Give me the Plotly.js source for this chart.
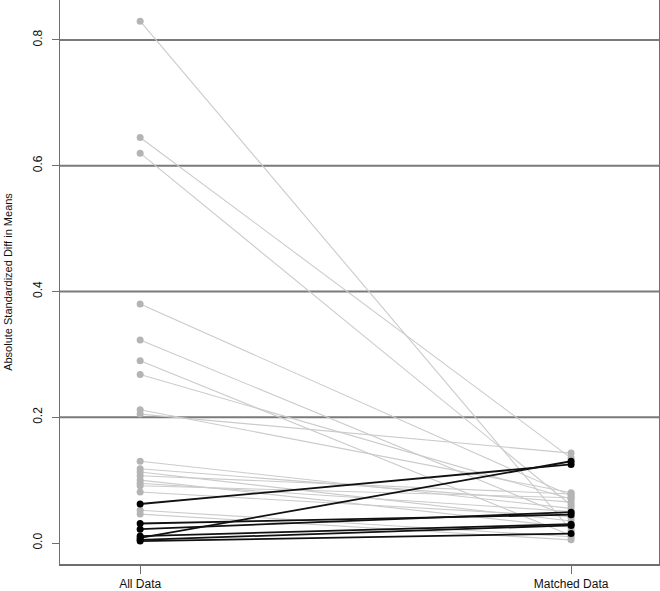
<!DOCTYPE html>
<html>
<head>
<meta charset="utf-8">
<script src="https://cdn.plot.ly/plotly-3.0.1.min.js"></script>
<style>html,body{margin:0;padding:0;background:#fff;}#chart{width:660px;height:591px;}</style>
</head>
<body>
<div id="chart"></div>
<script>
// Categories on the x axis
const categories = ["All Data", "Matched Data"];
// Covariates whose balance improved (grey)
const grayAll     = [0.830, 0.645, 0.620, 0.380, 0.323, 0.290, 0.268, 0.212, 0.205, 0.130, 0.118, 0.113, 0.107, 0.100, 0.095, 0.091, 0.081, 0.052, 0.046];
const grayMatched = [0.020, 0.135, 0.060, 0.075, 0.040, 0.012, 0.070, 0.080, 0.143, 0.055, 0.065, 0.035, 0.078, 0.025, 0.050, 0.072, 0.042, 0.010, 0.005];
// Covariates whose balance worsened (black)
const blackAll     = [0.062, 0.008, 0.031, 0.022, 0.011, 0.005, 0.003];
const blackMatched = [0.125, 0.130, 0.045, 0.049, 0.030, 0.028, 0.015];
// Y tick values
const yTicks = [0.0, 0.2, 0.4, 0.6, 0.8];
const yTickText = ["0.0", "0.2", "0.4", "0.6", "0.8"];

function segs(a, b) {
  const x = [], y = [];
  for (let i = 0; i < a.length; i++) {
    x.push(1, 2, null);
    y.push(a[i], b[i], null);
  }
  return {x, y};
}
function pts(a, b) {
  const x = [], y = [];
  for (let i = 0; i < a.length; i++) { x.push(1, 2); y.push(a[i], b[i]); }
  return {x, y};
}
const gs = segs(grayAll, grayMatched), bs = segs(blackAll, blackMatched);
const gp = pts(grayAll, grayMatched), bp = pts(blackAll, blackMatched);

const traces = [
  {x: gs.x, y: gs.y, mode: "lines", line: {color: "#cbcbcb", width: 1.1}, hoverinfo: "skip", showlegend: false},
  {x: bs.x, y: bs.y, mode: "lines", line: {color: "#111111", width: 1.8}, hoverinfo: "skip", showlegend: false},
  {x: gp.x, y: gp.y, mode: "markers", marker: {color: "#b4b4b4", size: 7}, showlegend: false},
  {x: bp.x, y: bp.y, mode: "markers", marker: {color: "#000000", size: 7}, showlegend: false}
];

const shapes = yTicks.filter(v => v > 0).map(v => ({
  type: "line", xref: "paper", x0: 0, x1: 1, yref: "y", y0: v, y1: v,
  line: {color: "#7a7a7a", width: 2}, layer: "below"
}));

const font = {family: "Liberation Sans, Arial, sans-serif", size: 11, color: "#111"};
const tickFont = {family: "Liberation Sans, Arial, sans-serif", size: 12, color: "#111"};
const layout = {
  width: 660, height: 591,
  margin: {l: 60, r: 1, t: 0, b: 27},
  paper_bgcolor: "#fff", plot_bgcolor: "#fff",
  font: font,
  showlegend: false,
  shapes: shapes,
  xaxis: {
    range: [0.814, 2.204], tickvals: [1, 2], ticktext: categories,
    showgrid: false, zeroline: false,
    showline: true, mirror: true, linecolor: "#6e6e6e", linewidth: 1.5,
    ticks: "outside", ticklen: 8, tickcolor: "#6e6e6e", tickwidth: 1,
    tickfont: tickFont
  },
  yaxis: {
    range: [-0.0334, 0.8636], tickvals: yTicks, ticktext: yTickText,
    tickangle: -90,
    showgrid: false, zeroline: false,
    showline: true, mirror: true, linecolor: "#6e6e6e", linewidth: 1.5,
    ticks: "outside", ticklen: 7, tickcolor: "#6e6e6e", tickwidth: 1,
    ticklabelstandoff: 5,
    tickfont: tickFont,
    title: {text: "Absolute Standardized Diff in Means", font: font, standoff: 16}
  }
};
Plotly.newPlot("chart", traces, layout, {staticPlot: true, displayModeBar: false});
</script>
</body>
</html>
